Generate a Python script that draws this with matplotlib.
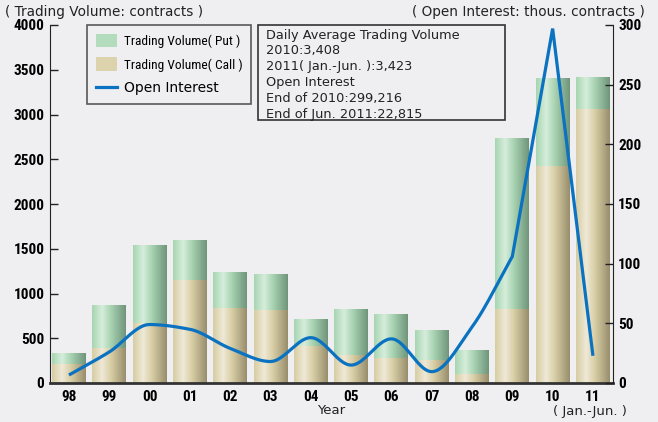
import numpy as np
import matplotlib
matplotlib.use("Agg")
import matplotlib.pyplot as plt
from matplotlib.patches import Rectangle, Patch
from matplotlib.lines import Line2D
from matplotlib.colors import LinearSegmentedColormap

# ---------------- data ----------------
years = ["98", "99", "00", "01", "02", "03", "04", "05", "06", "07", "08", "09", "10", "11"]
call_vol = [212, 395, 667, 1151, 838, 816, 413, 313, 283, 257, 101, 827, 2428, 3061]
total_vol = [332, 868, 1542, 1598, 1240, 1218, 711, 827, 771, 592, 369, 2741, 3408, 3423]
put_vol = [t - c for t, c in zip(total_vol, call_vol)]
open_interest = [6.7, 26, 49, 45, 29, 18, 38, 15, 37, 9.5, 47, 106, 297, 22.8]
left_ticks = [0, 500, 1000, 1500, 2000, 2500, 3000, 3500, 4000]
right_ticks = [0, 50, 100, 150, 200, 250, 300]

BG = "#efeff1"
LINE_C = "#0a72c0"
TXT = "#222222"
narrow = ["Liberation Sans Narrow", "Roboto Condensed", "DejaVu Sans"]
plain = ["DejaVu Sans"]

fig = plt.figure(figsize=(6.58, 4.22), dpi=100, facecolor=BG)
W, H = 658, 422
ax = fig.add_axes([50 / W, 1 - 383 / H, (612.7 - 50) / W, (383 - 25) / H])
ax.set_facecolor("none")
ax2 = ax.twinx()

x = np.arange(len(years))
bw = 0.84

green_cmap = LinearSegmentedColormap.from_list(
    "g", [(0, "#a6d5b0"), (0.3, "#d6eddb"), (0.55, "#a9d4b3"), (1, "#6f947a")])
call_cmap = LinearSegmentedColormap.from_list(
    "c", [(0, "#d6cda2"), (0.3, "#efe9d7"), (0.55, "#d9cfa6"), (1, "#978d6c")])
grad = np.linspace(0, 1, 256).reshape(1, -1)

b_call = ax.bar(x, call_vol, width=bw, color="none", zorder=2)
b_put = ax.bar(x, put_vol, bottom=call_vol, width=bw, color="none", zorder=2)

def fill_gradient(a, bars, cmap):
    for p in bars:
        x0, y0 = p.get_x(), p.get_y()
        w, h = p.get_width(), p.get_height()
        im = a.imshow(grad, cmap=cmap, aspect="auto",
                      extent=[x0, x0 + w, y0, y0 + h], zorder=2,
                      interpolation="bilinear")
        im.set_clip_path(p)

fill_gradient(ax, b_call, call_cmap)
fill_gradient(ax, b_put, green_cmap)

ax.set_xlim(-0.47, 13.49)
ax.set_ylim(0, 4000)
ax2.set_ylim(0, 300)

# smoothed line: monotone cubic Hermite through the data points,
# with corners where the adjacent slopes are very steep
def smooth(xs, ys, n=40, steep=100.0):
    xs = np.asarray(xs, float); ys = np.asarray(ys, float)
    h = np.diff(xs); d = np.diff(ys) / h
    N = len(ys)
    mL = np.zeros(N); mR = np.zeros(N)
    for i in range(N):
        if i == 0:
            mL[i] = mR[i] = d[0]; continue
        if i == N - 1:
            mL[i] = mR[i] = d[-1]; continue
        if abs(d[i - 1]) > steep or abs(d[i]) > steep:
            mL[i] = d[i - 1]; mR[i] = d[i]; continue
        m = 0.0
        if d[i - 1] * d[i] > 0:
            w1 = 2 * h[i] + h[i - 1]; w2 = h[i] + 2 * h[i - 1]
            m = (w1 + w2) / (w1 / d[i - 1] + w2 / d[i])
        mL[i] = mR[i] = m
    X, Y = [], []
    for i in range(N - 1):
        t = np.linspace(0, 1, n, endpoint=False)
        h00 = 2 * t**3 - 3 * t**2 + 1; h10 = t**3 - 2 * t**2 + t
        h01 = -2 * t**3 + 3 * t**2; h11 = t**3 - t**2
        X.extend(xs[i] + t * h[i])
        Y.extend(h00 * ys[i] + h10 * h[i] * mR[i] + h01 * ys[i + 1] + h11 * h[i] * mL[i + 1])
    X.append(xs[-1]); Y.append(ys[-1])
    return np.array(X), np.array(Y)

sx, sy = smooth(x, open_interest)
ax2.plot(sx, sy, color=LINE_C, lw=2.3, solid_capstyle="butt", solid_joinstyle="miter", zorder=5)

# spines / ticks
for a in (ax, ax2):
    a.spines["top"].set_visible(False)
ax.spines["right"].set_visible(False)
ax2.spines["left"].set_visible(False)
ax2.spines["bottom"].set_visible(False)
ax.spines["left"].set_color(TXT)
ax.spines["bottom"].set_color("#333333")
ax.spines["bottom"].set_linewidth(2.0)
ax2.spines["right"].set_color(TXT)
ax.set_yticks(left_ticks)
ax.set_yticklabels([str(v) for v in left_ticks], family=narrow, fontweight="bold", fontsize=11)
ax2.set_yticks(right_ticks)
ax2.set_yticklabels([str(v) for v in right_ticks], family=narrow, fontweight="bold", fontsize=11)
ax.tick_params(axis="y", direction="in", length=6, width=1, color=TXT, pad=4)
ax2.tick_params(axis="y", direction="in", length=6, width=1, color=TXT, pad=4)
ax.set_xticks(x)
ax.set_xticklabels(years, family=narrow, fontweight="bold", fontsize=11)
ax.tick_params(axis="x", length=0, pad=5)

fig.text(331 / W, 1 - 411 / H, "Year", ha="center", va="center", family=plain, fontsize=9.5, color=TXT)
fig.text(590 / W, 1 - 411 / H, "( Jan.-Jun. )", ha="center", va="center", family=plain, fontsize=9.5, color=TXT)
fig.text(5 / W, 1 - 12 / H, "( Trading Volume: contracts )", ha="left", va="center", family=plain, fontsize=9.8, color=TXT)
fig.text(645 / W, 1 - 12 / H, "( Open Interest: thous. contracts )", ha="right", va="center", family=plain, fontsize=9.8, color=TXT)

# legend
handles = [Patch(facecolor="#b3dcbd", edgecolor="none"),
           Patch(facecolor="#dcd3ac", edgecolor="none"),
           Line2D([], [], color=LINE_C, lw=2.3)]
labels = ["Trading Volume( Put )", "Trading Volume( Call )", "Open Interest"]
leg = fig.legend(handles, labels, loc="upper left", bbox_to_anchor=(87 / W, 1 - 25 / H),
                 frameon=True, fancybox=False, edgecolor="#333333", facecolor="none",
                 prop={"family": narrow, "size": 9.6}, handlelength=1.6, handleheight=1.15,
                 borderpad=0.65, labelspacing=0.72, handletextpad=0.5, borderaxespad=0)
leg.get_frame().set_linewidth(1.2)
leg.get_texts()[2].set_fontproperties({"family": plain, "size": 10})

# info box
fig.patches.append(Rectangle((258 / W, 1 - 120 / H), (505 - 258) / W, (120 - 25) / H,
                             transform=fig.transFigure, facecolor="none", edgecolor="#333333", lw=1.2))
info = ["Daily Average Trading Volume", "2010:3,408", "2011( Jan.-Jun. ):3,423",
        "Open Interest", "End of 2010:299,216", "End of Jun. 2011:22,815"]
for i, s in enumerate(info):
    fig.text(266 / W, 1 - (35 + i * 15.9) / H, s, ha="left", va="center", family=plain,
             fontsize=9.3, color=TXT)

fig.savefig("out.png", dpi=100, facecolor=BG)
